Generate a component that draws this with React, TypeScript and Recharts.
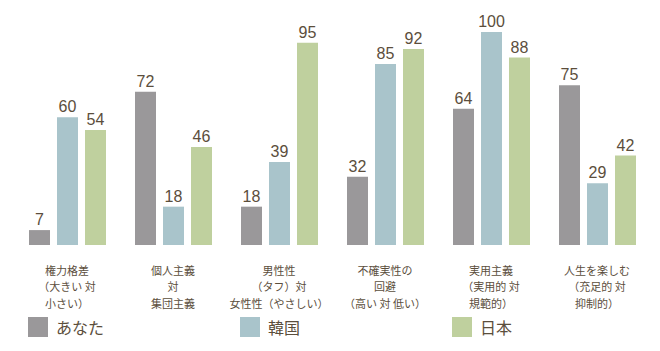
import { BarChart, Bar, XAxis, YAxis, LabelList } from 'recharts';

const categories = [
  '権力格差\n（大きい 対\n小さい）',
  '個人主義\n対\n集団主義',
  '男性性\n（タフ）対\n女性性（やさしい）',
  '不確実性の\n回避\n（高い 対 低い）',
  '実用主義\n（実用的 対\n規範的）',
  '人生を楽しむ\n（充足的 対\n抑制的）',
];

const you = [7, 72, 18, 32, 64, 75];
const korea = [60, 18, 39, 85, 100, 29];
const japan = [54, 46, 95, 92, 88, 42];

const seriesNames = ['あなた', '韓国', '日本'];
const seriesColors = ['#9a989a', '#a9c4cb', '#bfd09e'];

const data = categories.map((name, i) => ({
  name,
  you: you[i],
  korea: korea[i],
  japan: japan[i],
}));

const TEXT = '#5b4e3c';
const CJK = '"Noto Sans CJK JP", "Noto Sans", sans-serif';

const CategoryTick = ({ x, y, payload }: any) => {
  const lines = String(payload.value).split('\n');
  return (
    <text x={x} y={y} textAnchor="middle" fill={TEXT} fontSize={11} fontFamily={CJK}>
      {lines.map((line, i) => (
        <tspan key={i} x={x} y={y + 30 + i * 16.4}>
          {line}
        </tspan>
      ))}
    </text>
  );
};

// legend squares sit under the first bar of groups 1, 3 and 5
const legendLeft = [28, 240, 452];

export default function App() {
  return (
    <div style={{ position: 'absolute', left: 0, top: 0, width: 660, height: 351, background: '#fff' }}>
      <BarChart
        width={660}
        height={351}
        data={data}
        margin={{ top: 32, right: 10, bottom: 36, left: 14 }}
        barGap={7}
        barCategoryGap={14.5}
      >
        <YAxis hide domain={[0, 100]} />
        <XAxis
          dataKey="name"
          axisLine={false}
          tickLine={false}
          tickSize={0}
          tickMargin={0}
          height={70}
          interval={0}
          tick={<CategoryTick />}
        />
        {(['you', 'korea', 'japan'] as const).map((key, i) => (
          <Bar key={key} dataKey={key} fill={seriesColors[i]} barSize={21} isAnimationActive={false}>
            <LabelList
              dataKey={key}
              position="top"
              offset={5}
              fill={TEXT}
              fontSize={16}
              fontFamily='"Liberation Sans", Arial, sans-serif'
            />
          </Bar>
        ))}
      </BarChart>
      {seriesNames.map((name, i) => (
        <div
          key={name}
          style={{
            position: 'absolute',
            left: legendLeft[i],
            top: 317,
            display: 'flex',
            alignItems: 'center',
            fontFamily: CJK,
            fontSize: 16,
            color: TEXT,
          }}
        >
          <div style={{ width: 20, height: 20, background: seriesColors[i], marginRight: 8 }} />
          <span style={{ lineHeight: '20px' }}>{name}</span>
        </div>
      ))}
    </div>
  );
}
